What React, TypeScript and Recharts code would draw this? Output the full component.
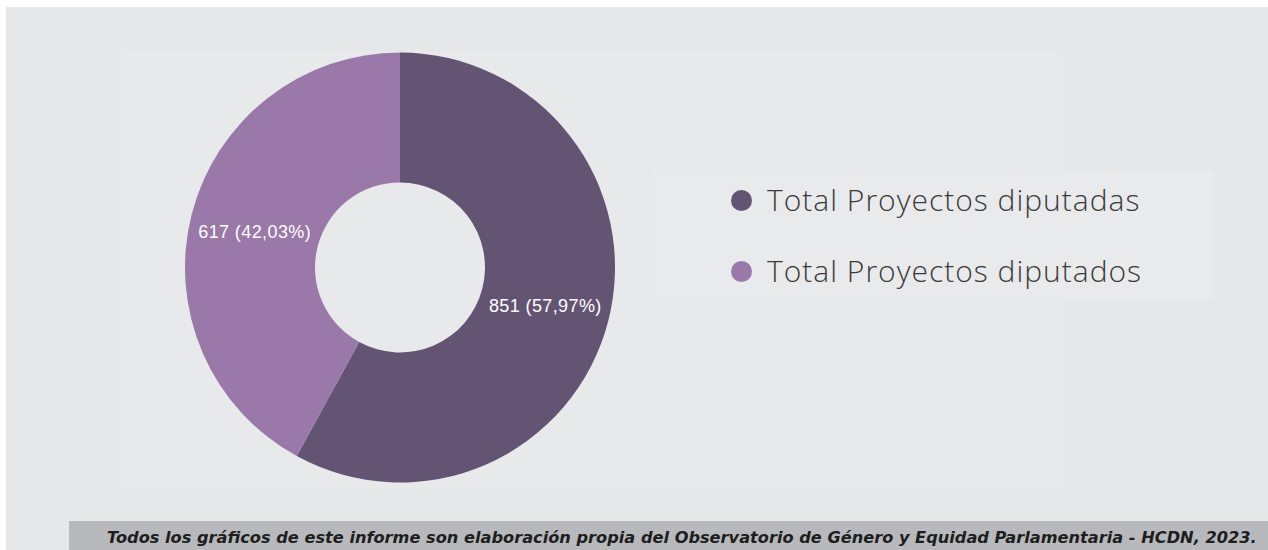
import React from "react";
import { PieChart, Pie, Cell, Legend } from "recharts";

const categories = ["Total Proyectos diputadas", "Total Proyectos diputados"];
const values = [851, 617];
const percents = ["57,97%", "42,03%"];
const colors = ["#635473", "#9b78aa"];
const footerText =
  "Todos los gráficos de este informe son elaboración propia del Observatorio de Género y Equidad Parlamentaria - HCDN, 2023.";

const data = categories.map((name, i) => ({ name, value: values[i], pct: percents[i] }));

const RAD = Math.PI / 180;

const renderLabel = (props: any) => {
  const { cx, cy, midAngle, innerRadius, outerRadius, index } = props;
  const r = (innerRadius + outerRadius) / 2;
  const x = cx + r * Math.cos(-midAngle * RAD);
  const y = cy + r * Math.sin(-midAngle * RAD) + 1.5;
  return (
    <text
      x={x}
      y={y}
      fill="#ffffff"
      textAnchor="middle"
      dominantBaseline="central"
      fontFamily="'Liberation Sans', Arial, sans-serif"
      fontSize={18}
      letterSpacing={0.4}
    >
      {`${values[index]} (${percents[index]})`}
    </text>
  );
};

const LegendContent = () => (
  <div
    style={{
      width: 560,
      height: 128,
      background: "#e9eaeb",
      paddingTop: 14,
      boxSizing: "border-box",
    }}
  >
    {categories.map((c, i) => (
      <div
        key={c}
        style={{
          display: "flex",
          alignItems: "center",
          height: 30,
          marginBottom: i === 0 ? 41 : 0,
          paddingLeft: 78,
        }}
      >
        <span
          style={{
            display: "inline-block",
            width: 21,
            height: 21,
            borderRadius: "50%",
            background: colors[i],
            marginRight: 15,
            flexShrink: 0,
          }}
        />
        <span
          style={{
            fontFamily: "'Open Sans', sans-serif",
            fontWeight: 300,
            fontSize: 30,
            letterSpacing: 1,
            lineHeight: "30px",
            color: "#3a3a3a",
            whiteSpace: "nowrap",
          }}
        >
          {c}
        </span>
      </div>
    ))}
  </div>
);

export default function App() {
  return (
    <div
      style={{
        position: "absolute",
        left: 0,
        top: 0,
        width: 1268,
        height: 550,
        background: "#ffffff",
        overflow: "hidden",
      }}
    >
      <div
        style={{
          position: "absolute",
          left: 6,
          top: 7,
          width: 1262,
          height: 543,
          background: "#e6e7e8",
        }}
      />
      <div
        style={{
          position: "absolute",
          left: 121,
          top: 51,
          width: 941,
          height: 439,
          background: "#e8e9ea",
        }}
      />
      <div style={{ position: "absolute", left: 0, top: 0 }}>
        <PieChart width={1268} height={550} margin={{ top: 0, right: 0, bottom: 0, left: 0 }}>
          <Pie
            data={data}
            dataKey="value"
            nameKey="name"
            cx={400}
            cy={267.5}
            innerRadius={85}
            outerRadius={215}
            startAngle={90}
            endAngle={-270}
            stroke="none"
            label={renderLabel}
            labelLine={false}
            isAnimationActive={false}
          >
            {data.map((d, i) => (
              <Cell key={d.name} fill={colors[i]} />
            ))}
          </Pie>
          <Legend
            content={<LegendContent />}
            wrapperStyle={{ position: "absolute", left: 653, top: 171, width: 560 }}
          />
        </PieChart>
      </div>
      <div
        style={{
          position: "absolute",
          left: 69,
          top: 521,
          width: 1199,
          height: 29,
          background: "#b8b9bc",
          overflow: "hidden",
        }}
      >
        <div
          style={{
            position: "absolute",
            left: 38,
            top: 7,
            whiteSpace: "nowrap",
            fontFamily: "'DejaVu Sans', sans-serif",
            fontWeight: 700,
            fontStyle: "italic",
            fontSize: 16.2,
            lineHeight: "20px",
            color: "#1e1e1e",
          }}
        >
          {footerText}
        </div>
      </div>
    </div>
  );
}
